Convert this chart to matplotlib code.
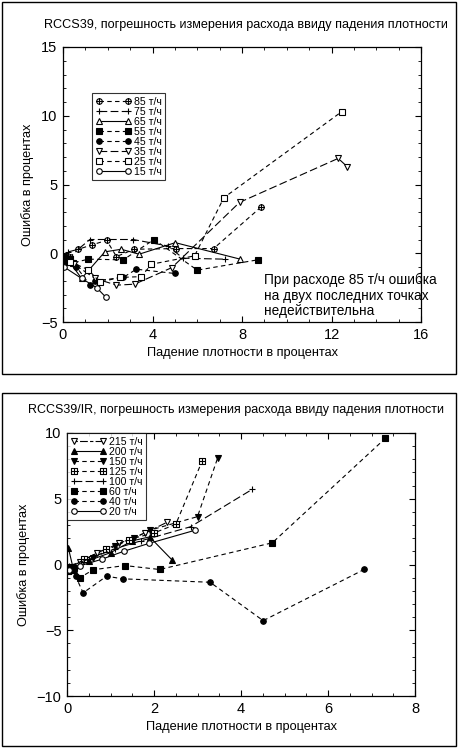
import numpy as np
import matplotlib
matplotlib.use("Agg")
import matplotlib.pyplot as plt
from matplotlib.path import Path
from matplotlib.patches import Rectangle
from matplotlib.ticker import MultipleLocator

plt.rcParams['font.family'] = ['Liberation Sans', 'DejaVu Sans']

# ---- top chart: RCCS39 ----
top_labels = ["85 т/ч", "75 т/ч", "65 т/ч", "55 т/ч", "45 т/ч", "35 т/ч", "25 т/ч", "15 т/ч"]
top_x = [
    [0.3, 0.68, 1.28, 1.95, 2.39, 3.18, 5.07, 6.73, 8.85],
    [0.24, 0.68, 1.2, 3.13, 4.69, 5.36, 7.22],
    [0.1, 0.83, 1.87, 2.6, 3.4, 5.02, 7.92],
    [0.05, 0.15, 0.3, 0.45, 1.13, 2.69, 4.07, 6.0, 8.7],
    [0.2, 0.6, 1.2, 1.45, 2.69, 3.28, 4.99],
    [0.5, 1.43, 2.39, 3.2, 4.87, 7.89, 12.3, 12.7],
    [0.3, 1.13, 1.65, 2.54, 3.5, 3.95, 5.88, 7.19, 12.46],
    [0.05, 0.83, 1.5, 1.9],
]
top_y = [
    [-0.3, 0.29, 0.6, 0.94, -0.24, 0.29, 0.34, 0.34, 3.36],
    [0.1, 0.29, 1.0, 1.0, 0.53, -0.36, -0.43],
    [-0.2, -1.83, 0.1, 0.29, -0.07, 0.77, -0.43],
    [-0.3, -0.6, -0.4, -0.7, -0.43, -0.48, 1.0, -1.23, -0.48],
    [-0.5, -1.0, -2.3, -2.0, -1.76, -1.16, -1.47],
    [-0.8, -1.83, -2.32, -2.25, -1.04, 3.7, 6.9, 6.3],
    [-0.6, -1.2, -2.1, -1.76, -1.7, -0.8, -0.19, 4.04, 10.3],
    [-1.0, -1.83, -2.5, -3.17],
]

# ---- bottom chart: RCCS39/IR ----
bot_labels = ["215 т/ч", "200 т/ч", "150 т/ч", "125 т/ч", "100 т/ч", "60 т/ч", "40 т/ч", "20 т/ч"]
bot_x = [
    [0.05, 0.3, 0.7, 1.2, 1.8, 2.31],
    [0.03, 0.15, 0.5, 1.0, 1.5, 1.9, 2.42],
    [0.1, 0.6, 1.1, 1.55, 1.9, 3.0, 3.46],
    [0.1, 0.4, 0.9, 1.42, 2.0, 2.5, 3.11],
    [0.05, 0.5, 1.1, 1.7, 2.84, 4.26],
    [0.02, 0.15, 0.3, 0.6, 1.33, 2.13, 4.72, 7.32],
    [0.1, 0.2, 0.37, 0.91, 1.28, 3.29, 4.51, 6.83],
    [0.05, 0.3, 0.8, 1.3, 1.88, 2.94],
]
bot_y = [
    [-0.3, 0.2, 0.9, 1.6, 2.4, 3.23],
    [1.27, -0.4, 0.3, 0.9, 1.8, 2.1, 0.33],
    [-0.5, 0.5, 1.4, 2.03, 2.6, 3.64, 8.07],
    [-0.2, 0.4, 1.2, 1.9, 2.4, 3.05, 7.9],
    [-0.1, 0.4, 1.2, 1.8, 2.87, 5.72],
    [-0.5, -0.3, -1.0, -0.4, -0.08, -0.38, 1.65, 9.6],
    [-0.3, -0.9, -2.16, -0.89, -1.09, -1.35, -4.27, -0.38],
    [-0.4, -0.1, 0.4, 1.0, 1.6, 2.6],
]

oplus = Path.make_compound_path(
    Path.unit_circle(),
    Path([(-1, 0), (1, 0)], [Path.MOVETO, Path.LINETO]),
    Path([(0, -1), (0, 1)], [Path.MOVETO, Path.LINETO]))
sq = [(-1, -1), (1, -1), (1, 1), (-1, 1), (-1, -1)]
boxcross = Path.make_compound_path(
    Path(sq, [Path.MOVETO] + [Path.LINETO] * 4),
    Path([(-1, 0), (1, 0)], [Path.MOVETO, Path.LINETO]),
    Path([(0, -1), (0, 1)], [Path.MOVETO, Path.LINETO]))

dash = (0, (4, 3))
longdash = (0, (7, 3))
# marker, filled, linestyle
top_styles = [
    (oplus, False, dash),
    ('+', False, longdash),
    ('^', False, '-'),
    ('s', True, dash),
    ('o', True, dash),
    ('v', False, longdash),
    ('s', False, dash),
    ('o', False, '-'),
]
bot_styles = [
    ('v', False, (0, (3, 2, 7, 2))),
    ('^', True, '-'),
    ('v', True, dash),
    (boxcross, False, dash),
    ('+', False, longdash),
    ('s', True, dash),
    ('o', True, dash),
    ('o', False, '-'),
]


def draw_series(ax, xs, ys, labels, styles):
    for x, y, lab, (mk, filled, ls) in zip(xs, ys, labels, styles):
        ax.plot(x, y, color='black', linestyle=ls, linewidth=0.8,
                marker=mk, markersize=4, markeredgewidth=0.8,
                markerfacecolor='black' if filled else 'white',
                markeredgecolor='black', label=lab)


def style_axes(ax, xmaj, xmin, ymaj, ymin):
    ax.xaxis.set_major_locator(MultipleLocator(xmaj))
    ax.xaxis.set_minor_locator(MultipleLocator(xmin))
    ax.yaxis.set_major_locator(MultipleLocator(ymaj))
    ax.yaxis.set_minor_locator(MultipleLocator(ymin))
    ax.tick_params(which='both', direction='in', top=True, right=True,
                   labelsize=10.5, pad=4)
    ax.tick_params(which='major', length=4)
    ax.tick_params(which='minor', length=2.5)
    for sp in ax.spines.values():
        sp.set_linewidth(0.9)
    ax.set_xlabel("Падение плотности в процентах", fontsize=9.2, labelpad=4)
    ax.set_ylabel("Ошибка в процентах", fontsize=9.2, labelpad=5)


def make_legend(ax, anchor):
    leg = ax.legend(loc='upper left', bbox_to_anchor=anchor, borderaxespad=0,
                    fontsize=7.6, numpoints=2, handlelength=3.4, handletextpad=0.2,
                    labelspacing=0.0, borderpad=0.35, frameon=True, fancybox=False)
    leg.get_frame().set_edgecolor('black')
    leg.get_frame().set_linewidth(0.8)
    return leg


fig = plt.figure(figsize=(4.58, 7.5), dpi=100)

# frames around each panel
for y0, y1 in [(2, 374), (393, 746)]:
    fig.add_artist(Rectangle((2 / 458, 1 - y1 / 750), 454 / 458, (y1 - y0) / 750,
                             transform=fig.transFigure, fill=False,
                             edgecolor='black', linewidth=1.0))

ax1 = fig.add_axes([63 / 458, 1 - 322 / 750, 358 / 458, 275 / 750])
draw_series(ax1, top_x, top_y, top_labels, top_styles)
ax1.set_xlim(0, 16)
ax1.set_ylim(-5, 15)
style_axes(ax1, 4, 1, 5, 1)
make_legend(ax1, (0.081, 0.833))
ax1.text(9.0, -1.4, "При расходе 85 т/ч ошибка\nна двух последних точках\nнедействительна",
         fontsize=9.8, va='top', ha='left', linespacing=1.15)
fig.text(246 / 458, 1 - 25 / 750,
         "RCCS39, погрешность измерения расхода ввиду падения плотности",
         ha='center', va='center', fontsize=9.1)

ax2 = fig.add_axes([67 / 458, 1 - 696 / 750, 348 / 458, 263 / 750])
draw_series(ax2, bot_x, bot_y, bot_labels, bot_styles)
ax2.set_xlim(0, 8)
ax2.set_ylim(-10, 10)
style_axes(ax2, 2, 0.5, 5, 1)
make_legend(ax2, (0, 1))
fig.text(236 / 458, 1 - 410 / 750,
         "RCCS39/IR, погрешность измерения расхода ввиду падения плотности",
         ha='center', va='center', fontsize=9.0)

fig.savefig("out.png", dpi=100)
